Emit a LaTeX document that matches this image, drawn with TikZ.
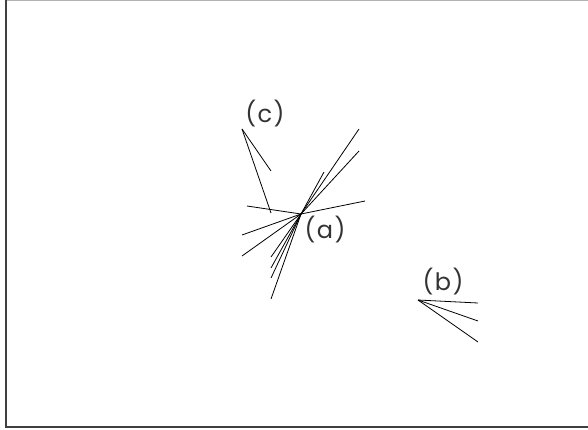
\documentclass[tikz,border=0pt]{standalone}
\usepackage{fontspec}
\setmainfont{Poppins}
\begin{document}
\begin{tikzpicture}[x=1pt,y=-1pt,
  ray/.style={line width=0.8pt,black},
  lbl/.style={inner sep=0pt,text=black!80,font=\fontsize{24}{26}\selectfont}]
\useasboundingbox (0,0) rectangle (588,430);
\fill[white] (0,0) rectangle (588,430);
% frame
\draw[gray!60,line width=1pt] (6,0.5) -- (588,0.5);
\draw[black!75,line width=1.4pt] (6,0) -- (6,427) -- (588,427);
% centres
\coordinate (A) at (301,214);
\coordinate (B) at (418,300);
\coordinate (C) at (242,129);
% labels
\node[lbl] (la) at (325,230) {(\hspace{0.06em}a\hspace{0.06em})};
\node[lbl] (lb) at (443,282) {(\hspace{0.06em}b\hspace{0.06em})};
\node[lbl] (lc) at (265,114) {(\hspace{0.06em}c\hspace{0.06em})};
% (c) group
\coordinate (c1) at (271,171);
\coordinate (c2) at (271,213);
\foreach \e in {c1,c2} \draw[ray] (C) -- (\e);
% (a) group
\coordinate (a1) at (359,129);
\coordinate (a2) at (359,151);
\coordinate (a3) at (324,172);
\coordinate (a4) at (365,201);
\coordinate (a5) at (247,206);
\coordinate (a6) at (242,235);
\coordinate (a7) at (242,256);
\coordinate (a8) at (271,257);
\coordinate (a9) at (271,268);
\coordinate (a10) at (271,278);
\coordinate (a11) at (271,299);
\foreach \e in {a1,a2,a3,a4,a5,a6,a7,a8,a9,a10,a11} \draw[ray] (A) -- (\e);
% (b) group
\coordinate (b1) at (478,303);
\coordinate (b2) at (478,321);
\coordinate (b3) at (478,342);
\foreach \e in {b1,b2,b3} \draw[ray] (B) -- (\e);
\end{tikzpicture}
\end{document}
